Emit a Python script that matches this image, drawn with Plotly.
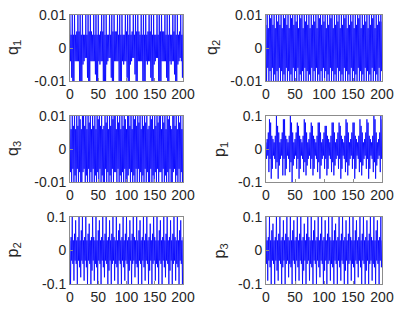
import plotly.graph_objects as go

t = list(range(0, 201))

# q-series in units of 1e-3, p-series in units of 1e-2
q1 = [11,-4,4,-9,12,-11,4,-12,10,-4,4,-4,5,-4,
      12,-4,5,-10,11,-12,4,-11,11,-5,4,-4,4,-3,
      10,-3,4,-9,12,-12,5,-13,10,-4,5,-4,4,-4,
      11,-4,4,-8,13,-11,4,-12,11,-4,4,-5,5,-4,
      12,-4,5,-10,11,-12,4,-12,10,-5,4,-4,4,-3,
      11,-3,4,-9,12,-11,5,-13,11,-4,5,-4,5,-4,
      10,-4,4,-10,12,-12,4,-11,10,-4,4,-5,4,-4,
      12,-4,5,-9,13,-11,4,-12,11,-5,4,-4,5,-3,
      11,-3,4,-8,11,-12,5,-12,10,-4,5,-4,4,-4,
      10,-4,4,-10,12,-11,4,-13,11,-4,4,-5,5,-4,
      12,-4,5,-9,12,-12,4,-11,10,-5,4,-4,4,-3,
      11,-3,4,-10,13,-11,5,-12,11,-4,5,-4,5,-4,
      10,-4,4,-9,11,-12,4,-13,10,-4,4,-5,4,-4,
      12,-4,5,-8,12,-11,4,-12,11,-5,4,-4,5,-3,
      11,-4,4,-9,12]

q2 = [7,-11,12,-6,6,-12,11,-7,9,-10,12,-6,7,-12,10,-8,6,-11,12,-7,
      8,-12,11,-6,7,-10,12,-7,6,-12,10,-8,9,-11,12,-6,7,-12,11,-7,
      6,-10,12,-8,9,-12,11,-6,7,-11,12,-7,8,-12,10,-6,6,-11,12,-8,
      9,-12,11,-7,6,-10,12,-6,8,-12,11,-7,7,-11,12,-8,6,-12,10,-6,
      7,-11,12,-7,8,-12,11,-6,6,-10,12,-8,9,-12,11,-7,7,-11,12,-6,
      8,-12,10,-7,6,-11,12,-8,7,-12,11,-6,9,-10,12,-7,6,-12,11,-8,
      7,-11,12,-6,8,-12,10,-7,6,-11,12,-8,7,-12,11,-6,9,-10,12,-7,
      6,-12,11,-8,7,-11,12,-6,8,-12,10,-7,6,-11,12,-8,7,-12,11,-6,
      9,-10,12,-7,6,-12,11,-8,7,-11,12,-6,8,-12,10,-7,6,-11,12,-8,
      7,-12,11,-6,9,-11,12,-7,6,-12,10,-8,7,-11,12,-6,8,-12,11,-7,
      8]

q3 = [11,-7,6,-12,12,-6,7,-10,12,-8,6,-11,10,-6,7,-12,12,-7,9,-11,
      6,-12,12,-7,10,-6,7,-11,12,-8,6,-12,11,-6,8,-10,12,-7,6,-12,
      12,-6,7,-11,10,-8,6,-12,12,-7,9,-10,11,-6,7,-12,12,-8,6,-11,
      7,-12,11,-6,8,-11,12,-7,6,-10,12,-8,7,-12,10,-6,9,-11,12,-7,
      12,-7,6,-12,11,-6,8,-10,12,-8,6,-12,11,-7,7,-11,12,-6,9,-12,
      6,-11,12,-8,10,-6,7,-12,11,-7,6,-10,12,-8,9,-12,11,-6,7,-11,
      12,-6,8,-12,11,-7,6,-11,12,-8,7,-10,12,-6,8,-12,10,-7,6,-12,
      7,-12,12,-6,9,-11,11,-8,6,-12,12,-7,7,-10,11,-6,8,-12,12,-7,
      11,-7,6,-11,12,-6,8,-12,10,-8,6,-11,12,-7,9,-12,11,-6,7,-10,
      6,-12,12,-7,10,-6,7,-11,12,-8,6,-12,11,-6,8,-11,12,-7,6,-12,
      11]

p1 = [2,-3,3,-2,5,-7,9,-3,8,-9,4,-6,
      3,-2,2,-3,4,-6,10,-4,7,-9,5,-5,
      2,-3,3,-2,5,-8,9,-3,9,-8,4,-6,
      3,-2,2,-3,4,-7,10,-4,8,-10,5,-5,
      2,-3,3,-2,5,-6,8,-3,7,-9,4,-6,
      3,-2,2,-3,4,-7,9,-4,8,-8,5,-5,
      2,-3,3,-2,5,-6,8,-3,7,-8,4,-6,
      3,-2,2,-3,4,-7,8,-4,8,-9,5,-5,
      2,-3,3,-2,5,-6,7,-3,7,-8,4,-6,
      3,-2,2,-3,4,-7,8,-4,8,-8,5,-5,
      2,-3,3,-2,5,-6,8,-3,7,-9,4,-6,
      3,-2,2,-3,4,-7,9,-4,8,-8,5,-5,
      2,-3,3,-2,5,-6,8,-3,8,-9,4,-6,
      3,-2,2,-3,4,-7,9,-4,7,-8,5,-5,
      2,-3,3,-2,5,-6,9,-3,8,-9,4,-6,
      3,-2,2,-3,4,-7,10,-4,9,-9,5,-5,
      2,-3,3,-2,5,-7,10,-3,9]

p2 = [3,-10,4,-3,10,-4,3,-9,5,-3,9,-4,3,-10,4,-3,10,-5,3,-8,
      6,-3,10,-4,3,-9,4,-3,11,-5,3,-10,5,-3,8,-4,3,-10,4,-6,
      10,-3,4,-9,3,-4,10,-5,3,-10,6,-3,9,-4,3,-10,4,-3,11,-5,
      3,-8,5,-3,10,-4,3,-10,4,-6,9,-3,3,-10,5,-4,10,-3,4,-9,
      3,-4,10,-5,3,-10,6,-3,8,-4,3,-10,4,-3,11,-5,3,-9,5,-3,
      10,-4,3,-10,4,-6,9,-3,3,-10,5,-4,10,-3,4,-8,3,-4,11,-5,
      3,-10,6,-3,9,-4,3,-10,4,-3,10,-5,3,-9,5,-3,10,-4,3,-10,
      4,-6,8,-3,3,-10,5,-4,11,-3,4,-9,3,-4,10,-5,3,-10,6,-3,
      9,-4,3,-10,4,-3,10,-5,3,-8,5,-3,11,-4,3,-10,4,-6,9,-3,
      3,-10,5,-4,10,-3,4,-9,3,-4,10,-5,3,-10,6,-3,9,-4,3,-10,
      4]

p3 = [10,-4,3,-9,4,-3,10,-5,3,-10,6,-3,8,-4,3,-10,4,-3,11,-6,
      3,-9,5,-3,10,-4,3,-10,4,-5,9,-3,3,-10,5,-4,10,-3,4,-8,
      3,-4,11,-5,3,-10,6,-3,9,-4,3,-10,4,-3,10,-5,3,-9,5,-3,
      10,-4,3,-10,4,-6,8,-3,3,-10,5,-4,11,-3,4,-9,3,-4,10,-5,
      3,-10,6,-3,9,-4,3,-10,4,-3,10,-5,3,-8,5,-3,10,-4,3,-10,
      4,-6,9,-3,3,-10,5,-4,10,-3,4,-9,3,-4,11,-5,3,-10,6,-3,
      8,-4,3,-10,4,-3,10,-5,3,-9,5,-3,10,-4,3,-10,4,-6,9,-3,
      3,-10,5,-4,11,-3,4,-9,3,-4,10,-5,3,-10,6,-3,9,-4,3,-8,
      4,-3,10,-5,3,-10,5,-3,10,-4,3,-10,4,-6,9,-3,3,-10,5,-4,
      10,-3,4,-9,3,-4,10,-5,3,-10,6,-3,9,-4,3,-10,4,-3,10,-5,
      3]

q_scale = 1e-3
p_scale = 1e-2
x_ticks = [0, 50, 100, 150, 200]
q_ticks = [-0.01, 0, 0.01]
q_ticktext = ["-0.01", "0", "0.01"]
p_ticks = [-0.1, 0, 0.1]
p_ticktext = ["-0.1", "0", "0.1"]

panels = [
    ("q<sub>1</sub>", q1, q_scale, q_ticks, q_ticktext),
    ("q<sub>2</sub>", q2, q_scale, q_ticks, q_ticktext),
    ("q<sub>3</sub>", q3, q_scale, q_ticks, q_ticktext),
    ("p<sub>1</sub>", p1, p_scale, p_ticks, p_ticktext),
    ("p<sub>2</sub>", p2, p_scale, p_ticks, p_ticktext),
    ("p<sub>3</sub>", p3, p_scale, p_ticks, p_ticktext),
]

W, H = 402, 313


def px(sx):
    return sx / W


def py(sy):
    return 1 - sy / H


xdoms = [[px(70), px(183)], [px(266), px(382)]]
ydoms = [[py(81), py(15)], [py(182), py(116)], [py(284), py(217)]]
title_x = [px(13), px(212), px(13), px(220), px(13), px(220)]
FONT = "Liberation Sans, Arial, sans-serif"

fig = go.Figure()
ann = []
for i, (name, vals, sc, tv, tt) in enumerate(panels):
    r, c = divmod(i, 2)
    k = i + 1
    xa = "x" if k == 1 else f"x{k}"
    ya = "y" if k == 1 else f"y{k}"
    fig.add_trace(go.Scatter(
        x=t, y=[v * sc for v in vals], mode="lines",
        line=dict(color="#0000ff", width=0.8),
        xaxis=xa, yaxis=ya, showlegend=False, hoverinfo="skip"))
    axstyle = dict(showline=True, mirror=True, linecolor="#8c8c8c", linewidth=1,
                   showgrid=False, zeroline=False, ticks="inside", ticklen=3,
                   tickcolor="#8c8c8c", automargin=False, ticklabeloverflow="allow",
                   tickfont=dict(family=FONT, size=14, color="#262626"))
    sfx = "" if k == 1 else str(k)
    fig.layout["xaxis" + sfx] = dict(
        domain=xdoms[c], anchor=ya, range=[0, 200],
        tickvals=x_ticks, ticktext=[str(v) for v in x_ticks], **axstyle)
    fig.layout["yaxis" + sfx] = dict(
        domain=ydoms[r], anchor=xa, range=[tv[0], tv[-1]],
        tickvals=tv, ticktext=tt, **axstyle)
    ann.append(dict(text=name, xref="paper", yref="paper",
                    x=title_x[i], y=(ydoms[r][0] + ydoms[r][1]) / 2,
                    xanchor="center", yanchor="middle", textangle=-90, showarrow=False,
                    font=dict(family=FONT, size=16, color="#262626")))

fig.update_layout(width=W, height=H, margin=dict(l=0, r=0, t=0, b=0),
                  paper_bgcolor="white", plot_bgcolor="white", annotations=ann)
fig.write_html("out.html", config={"displayModeBar": False, "staticPlot": True},
               post_script="document.body.style.margin='0';document.body.style.overflow='hidden';")
